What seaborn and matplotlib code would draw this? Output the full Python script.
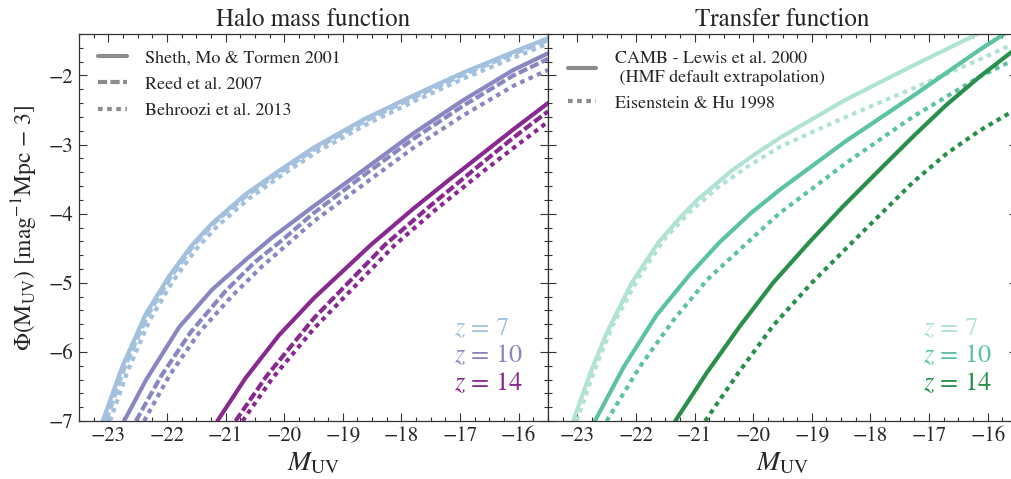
import numpy as np
import pandas as pd
import matplotlib
matplotlib.use("Agg")
import matplotlib.pyplot as plt
import seaborn as sns
from matplotlib.ticker import MultipleLocator
from matplotlib.lines import Line2D

sns.set_theme(style="ticks")
plt.rcParams['font.family'] = ['STIXGeneral', 'DejaVu Serif']
plt.rcParams['mathtext.fontset'] = 'stix'
plt.rcParams['axes.unicode_minus'] = True

# ---------------- data ----------------
# Left panel: halo mass function (SMT solid, Reed dashed, Behroozi dotted)
hmf_z7_smt_x = [-23.10, -22.76, -22.36, -21.96, -21.57, -21.23, -20.66, -20.09, -19.49, -18.65, -17.80, -16.95, -16.09, -15.50]
hmf_z7_smt_y = [-7.01, -6.21, -5.45, -4.90, -4.45, -4.14, -3.72, -3.38, -3.04, -2.64, -2.29, -1.96, -1.66, -1.46]
hmf_z7_reed_x = [-23.04, -22.72, -22.33, -21.93, -21.53, -21.19, -20.63, -20.05, -19.47, -18.62, -17.77, -16.92, -16.07, -15.50]
hmf_z7_reed_y = [-7.00, -6.22, -5.47, -4.91, -4.44, -4.13, -3.73, -3.39, -3.06, -2.66, -2.31, -1.98, -1.68, -1.49]
hmf_z7_beh_x = [-22.97, -22.68, -22.30, -21.90, -21.50, -21.15, -20.60, -20.00, -19.45, -18.60, -17.75, -16.90, -16.05, -15.50]
hmf_z7_beh_y = [-7.00, -6.30, -5.55, -4.98, -4.51, -4.19, -3.78, -3.42, -3.11, -2.71, -2.36, -2.03, -1.73, -1.54]

hmf_z10_smt_x = [-22.73, -22.36, -21.79, -21.23, -20.66, -20.20, -19.51, -18.65, -17.80, -16.95, -16.09, -15.50]
hmf_z10_smt_y = [-7.00, -6.41, -5.64, -5.10, -4.67, -4.34, -3.90, -3.37, -2.84, -2.36, -1.92, -1.68]
hmf_z10_reed_x = [-22.53, -22.10, -21.60, -21.00, -20.50, -20.03, -19.51, -18.65, -17.80, -16.95, -16.09, -15.50]
hmf_z10_reed_y = [-7.00, -6.35, -5.72, -5.12, -4.70, -4.38, -4.00, -3.45, -2.92, -2.44, -2.00, -1.76]
hmf_z10_beh_x = [-22.39, -21.95, -21.45, -20.90, -20.40, -19.86, -19.51, -18.65, -17.80, -16.95, -16.09, -15.50]
hmf_z10_beh_y = [-7.00, -6.33, -5.72, -5.20, -4.78, -4.38, -4.12, -3.58, -3.05, -2.58, -2.15, -1.92]

hmf_z14_smt_x = [-21.14, -20.66, -20.09, -19.49, -18.52, -17.80, -17.23, -16.09, -15.50]
hmf_z14_smt_y = [-7.00, -6.38, -5.76, -5.22, -4.45, -3.93, -3.54, -2.78, -2.40]
hmf_z14_reed_x = [-20.83, -20.30, -19.49, -18.28, -17.50, -16.70, -16.09, -15.50]
hmf_z14_reed_y = [-7.00, -6.35, -5.51, -4.45, -3.88, -3.32, -2.90, -2.52]
hmf_z14_beh_x = [-20.71, -20.20, -19.49, -18.11, -17.40, -16.70, -16.09, -15.50]
hmf_z14_beh_y = [-7.00, -6.38, -5.66, -4.45, -3.93, -3.45, -3.05, -2.67]

# Right panel: transfer function (CAMB solid, Eisenstein & Hu dotted)
tf_z7_camb_x = [-23.07, -22.78, -22.50, -22.07, -21.62, -21.23, -20.94, -20.37, -19.97, -19.54, -18.42, -17.28, -16.27, -15.90]
tf_z7_camb_y = [-7.00, -6.31, -5.73, -5.00, -4.42, -4.04, -3.79, -3.38, -3.14, -2.90, -2.35, -1.86, -1.44, -1.28]
tf_z7_eh_x = [-23.01, -22.70, -22.40, -21.95, -21.53, -21.10, -20.60, -20.10, -19.54, -18.42, -17.28, -16.14, -15.50]
tf_z7_eh_y = [-7.00, -6.25, -5.62, -4.92, -4.38, -3.99, -3.62, -3.32, -3.03, -2.60, -2.19, -1.77, -1.52]

tf_z10_camb_x = [-22.70, -22.21, -21.65, -21.08, -20.58, -20.05, -19.54, -18.42, -17.28, -16.14, -15.50]
tf_z10_camb_y = [-7.00, -6.22, -5.47, -4.88, -4.42, -4.00, -3.65, -2.95, -2.30, -1.63, -1.28]
tf_z10_eh_x = [-22.50, -21.93, -21.36, -20.79, -20.05, -19.56, -18.42, -17.28, -16.14, -15.50]
tf_z10_eh_y = [-7.00, -6.21, -5.54, -4.96, -4.38, -4.00, -3.27, -2.60, -2.02, -1.75]

tf_z14_camb_x = [-21.33, -20.79, -20.22, -19.66, -19.05, -18.45, -17.85, -17.28, -16.71, -16.14, -15.50]
tf_z14_camb_y = [-7.00, -6.30, -5.62, -5.00, -4.42, -3.88, -3.37, -2.89, -2.43, -2.02, -1.60]
tf_z14_eh_x = [-20.82, -20.25, -19.66, -19.00, -18.27, -17.28, -16.70, -16.14, -15.50]
tf_z14_eh_y = [-7.00, -6.30, -5.62, -5.00, -4.38, -3.55, -3.13, -2.80, -2.48]

redshift_labels = ["$z$ = 7", "$z$ = 10", "$z$ = 14"]
hmf_colors = ["#a3c1de", "#8a86c1", "#87298f"]
tf_colors = ["#b1e2d6", "#5cc3a0", "#28904b"]

hmf_legend_labels = ["Sheth, Mo & Tormen 2001", "Reed et al. 2007", "Behroozi et al. 2013"]
tf_legend_labels = ["CAMB - Lewis et al. 2000\n (HMF default extrapolation)", "Eisenstein & Hu 1998"]
panel_titles = ["Halo mass function", "Transfer function"]
x_ticks = [-23, -22, -21, -20, -19, -18, -17, -16]
y_ticks = [-7, -6, -5, -4, -3, -2]

# ---------------- styling ----------------
LS_SOLID = "-"
LS_DASH = (0, (2.2, 0.8))
LS_DOT = (0, (1.1, 1.1))
LW = 3.0

fig = plt.figure(figsize=(10.11, 4.79), dpi=100)
W, H = 1011.0, 479.0
axL = fig.add_axes([79 / W, 58 / H, 469 / W, 387 / H])
axR = fig.add_axes([548 / W, 58 / H, 469 / W, 387 / H])


def draw(ax, xs, ys, color, ls):
    df = pd.DataFrame({"M": xs, "phi": ys})
    sns.lineplot(data=df, x="M", y="phi", ax=ax, color=color, lw=LW,
                 linestyle=ls, sort=False, estimator=None)


hmf_sets = [
    (hmf_z7_smt_x, hmf_z7_smt_y, hmf_z7_reed_x, hmf_z7_reed_y, hmf_z7_beh_x, hmf_z7_beh_y),
    (hmf_z10_smt_x, hmf_z10_smt_y, hmf_z10_reed_x, hmf_z10_reed_y, hmf_z10_beh_x, hmf_z10_beh_y),
    (hmf_z14_smt_x, hmf_z14_smt_y, hmf_z14_reed_x, hmf_z14_reed_y, hmf_z14_beh_x, hmf_z14_beh_y),
]
for c, s in zip(hmf_colors, hmf_sets):
    draw(axL, s[0], s[1], c, LS_SOLID)
    draw(axL, s[2], s[3], c, LS_DASH)
    draw(axL, s[4], s[5], c, LS_DOT)

tf_sets = [
    (tf_z7_camb_x, tf_z7_camb_y, tf_z7_eh_x, tf_z7_eh_y),
    (tf_z10_camb_x, tf_z10_camb_y, tf_z10_eh_x, tf_z10_eh_y),
    (tf_z14_camb_x, tf_z14_camb_y, tf_z14_eh_x, tf_z14_eh_y),
]
for c, s in zip(tf_colors, tf_sets):
    draw(axR, s[0], s[1], c, LS_SOLID)
    draw(axR, s[2], s[3], c, LS_DOT)

for i, ax in enumerate([axL, axR]):
    ax.set_xlim(-23.5, -15.5)
    ax.set_ylim(-7, -1.4)
    ax.set_xticks(x_ticks)
    ax.set_yticks(y_ticks)
    ax.xaxis.set_minor_locator(MultipleLocator(0.25))
    ax.yaxis.set_minor_locator(MultipleLocator(0.2))
    ax.tick_params(which="both", direction="in", top=True, right=True,
                   color="#333333", width=0.8)
    ax.tick_params(which="major", length=6, labelsize=15, pad=4)
    ax.tick_params(which="minor", length=3)
    for sp in ax.spines.values():
        sp.set_color("#333333")
        sp.set_linewidth(0.9)
    ax.set_xlabel(r"$M_{\rm UV}$", fontsize=20, labelpad=3)
    ax.set_title(panel_titles[i], fontsize=18, pad=6)
    ax.grid(False)

axL.set_ylabel(r"$\Phi(\mathrm{M}_{\rm UV})$ [mag$^{-1}$Mpc $-$ 3]", fontsize=17, labelpad=6)
axR.set_ylabel("")
axR.tick_params(labelleft=False)

# redshift labels
zcolsets = [hmf_colors, tf_colors]
for ax, cols in zip([axL, axR], zcolsets):
    for k, (lab, c) in enumerate(zip(redshift_labels, cols)):
        ax.text(0.80, 0.238 - k * 0.071, lab, transform=ax.transAxes, ha="left",
                va="center", fontsize=19, color=c)

# legends
grey = "#8c8c8c"
hL = [Line2D([], [], color=grey, lw=LW, linestyle=ls) for ls in (LS_SOLID, LS_DASH, LS_DOT)]
axL.legend(hL, hmf_legend_labels, loc="upper left", bbox_to_anchor=(0.04, 0.96),
           frameon=False, fontsize=13, handlelength=1.6, handletextpad=1.0,
           labelspacing=0.55, borderpad=0, borderaxespad=0)
hR = [Line2D([], [], color=grey, lw=LW, linestyle=ls) for ls in (LS_SOLID, LS_DOT)]
axR.legend(hR, tf_legend_labels, loc="upper left", bbox_to_anchor=(0.042, 0.955),
           frameon=False, fontsize=13, handlelength=1.55, handletextpad=1.05,
           labelspacing=0.5, borderpad=0, borderaxespad=0)

fig.savefig("out.png", dpi=100)
